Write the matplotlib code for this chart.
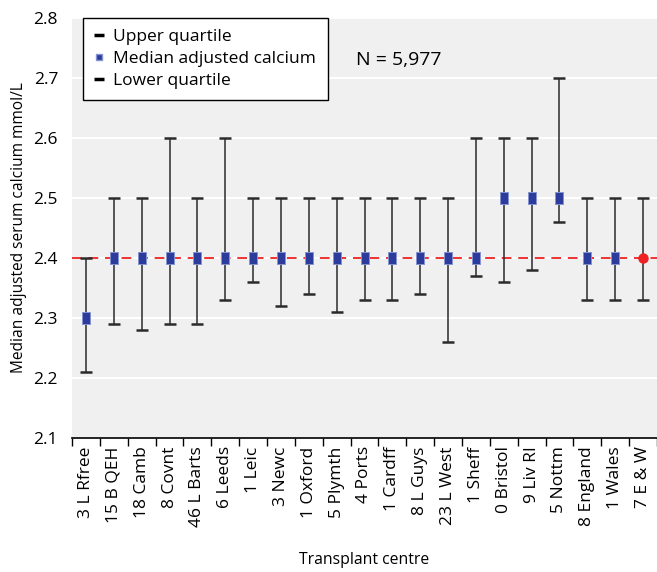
import matplotlib
matplotlib.use("Agg")
import matplotlib.pyplot as plt
from matplotlib.lines import Line2D
import numpy as np

plt.rcParams['font.family'] = ['Open Sans', 'DejaVu Sans']

# Transplant centres and adjusted calcium quartiles (mmol/L)
centres = ["3 L Rfree", "15 B QEH", "18 Camb", "8 Covnt", "46 L Barts", "6 Leeds",
           "1 Leic", "3 Newc", "1 Oxford", "5 Plymth", "4 Ports", "1 Cardff",
           "8 L Guys", "23 L West", "1 Sheff", "0 Bristol", "9 Liv RI", "5 Nottm",
           "8 England", "1 Wales", "7 E & W"]
median = [2.30, 2.40, 2.40, 2.40, 2.40, 2.40, 2.40, 2.40, 2.40, 2.40, 2.40,
          2.40, 2.40, 2.40, 2.40, 2.50, 2.50, 2.50, 2.40, 2.40, 2.40]
upper_q = [2.40, 2.50, 2.50, 2.60, 2.50, 2.60, 2.50, 2.50, 2.50, 2.50, 2.50,
           2.50, 2.50, 2.50, 2.60, 2.60, 2.60, 2.70, 2.50, 2.50, 2.50]
lower_q = [2.21, 2.29, 2.28, 2.29, 2.29, 2.33, 2.36, 2.32, 2.34, 2.31, 2.33,
           2.33, 2.34, 2.26, 2.37, 2.36, 2.38, 2.46, 2.33, 2.33, 2.33]
national = 2.4
n_patients = "N = 5,977"

W, H = 657, 572
fig = plt.figure(figsize=(W / 100, H / 100), dpi=100)
ax = fig.add_axes([72 / W, 134 / H, 585 / W, 420 / H])
ax.set_facecolor('#eff0ef')

x = np.arange(len(centres))
med = np.array(median)
up = np.array(upper_q)
lo = np.array(lower_q)

# white grid lines
for yv in np.arange(2.2, 2.81, 0.1):
    ax.axhline(yv, color='white', lw=1.5, zorder=1)

ax.axhline(national, color='#ee3333', lw=1.4, ls=(0, (5, 3.5)), zorder=2)

ax.errorbar(x, med, yerr=[med - lo, up - med], fmt='none', ecolor='#2a2a2a',
            elinewidth=1.1, capsize=4, capthick=1.8, zorder=3)

# slightly tall rectangle for the centre medians
rect = [(-0.75, -1), (0.75, -1), (0.75, 1), (-0.75, 1), (-0.75, -1)]
ax.plot(x[:-1], med[:-1], marker=rect, ls='none', color='#2c3c9c',
        mec='#8593d2', mew=0.7, ms=8.5, zorder=4)
# England & Wales overall as red dot
ax.plot(x[-1:], med[-1:], 'o', color='#ee2222', ms=6.5, zorder=4)

ax.set_ylim(2.1, 2.8)
ax.set_xlim(-0.5, -0.5 + 585 / 28)
ax.set_yticks(np.arange(2.1, 2.81, 0.1))
ax.set_yticklabels([f"{v:.1f}" for v in np.arange(2.1, 2.81, 0.1)], fontsize=12.5)
ax.tick_params(axis='y', length=0, pad=10)

ax.set_xticks(x)
ax.set_xticklabels(centres, rotation=90, fontsize=12.5)
ax.tick_params(axis='x', which='major', length=0, pad=6)
ax.set_xticks(np.arange(-0.5, len(centres), 1), minor=True)
ax.tick_params(axis='x', which='minor', length=6, width=1, color='black')

for side in ['top', 'right', 'left']:
    ax.spines[side].set_visible(False)
ax.spines['bottom'].set_color('black')
ax.spines['bottom'].set_linewidth(1.2)

ax.set_ylabel("Median adjusted serum calcium mmol/L", fontsize=11.2, labelpad=5)
ax.set_xlabel("Transplant centre", fontsize=11.3, labelpad=18)

handles = [
    Line2D([], [], color='black', marker='_', ls='none', ms=7, mew=2.5),
    Line2D([], [], color='#2c3c9c', marker='s', ls='none', ms=5, mec='#8593d2'),
    Line2D([], [], color='black', marker='_', ls='none', ms=7, mew=2.5),
]
leg = ax.legend(handles, ["Upper quartile", "Median adjusted calcium", "Lower quartile"],
                loc='upper left', bbox_to_anchor=(11 / 585, 1.0), borderaxespad=0,
                fontsize=12.5, frameon=True, fancybox=False, edgecolor='black',
                framealpha=1, handlelength=0.6, handletextpad=0.5,
                labelspacing=0.32, borderpad=0.65)
leg.get_frame().set_linewidth(1.0)

ax.text(9.71, 2.73, n_patients, fontsize=14, va='center', ha='left')

fig.savefig("out.png", dpi=100)
